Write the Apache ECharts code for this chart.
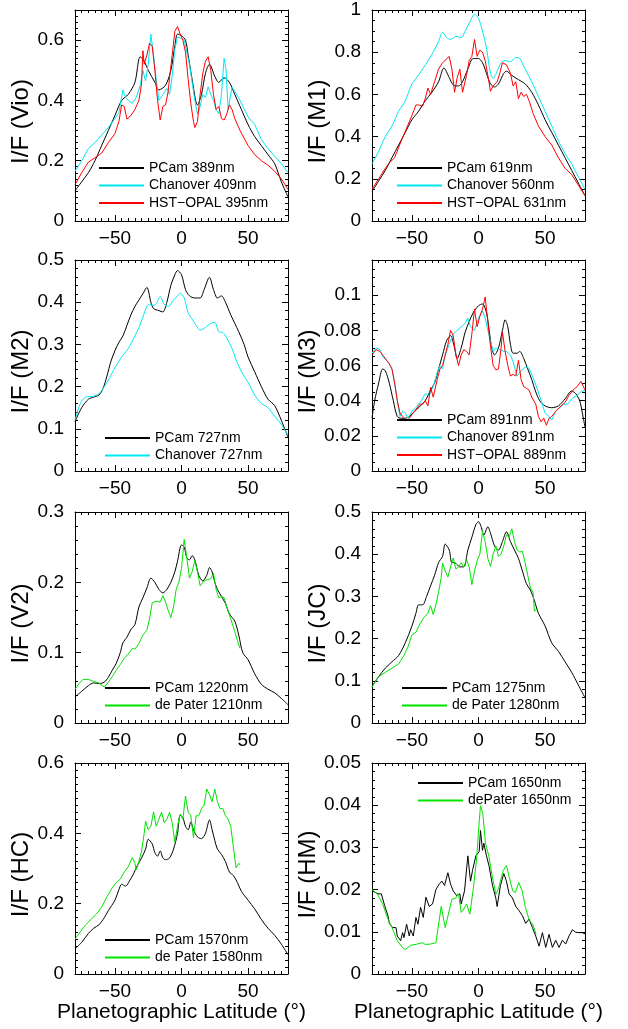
<!DOCTYPE html>
<html><head><meta charset="utf-8">
<script src="https://cdn.jsdelivr.net/npm/echarts@6/dist/echarts.min.js"></script>
<style>html,body{margin:0;padding:0;background:#fff}#c{width:628px;height:1029px}</style>
</head><body><div id="c"></div><script>
// ---------- tick labels ----------
const xTicks = [-50, 0, 50];
const yTicksVio = [0, 0.2, 0.4, 0.6];
const yTicksM1 = [0, 0.2, 0.4, 0.6, 0.8, 1];
const yTicksM2 = [0, 0.1, 0.2, 0.3, 0.4, 0.5];
const yTicksM3 = [0, 0.02, 0.04, 0.06, 0.08, 0.1];
const yTicksV2 = [0, 0.1, 0.2, 0.3];
const yTicksJC = [0, 0.1, 0.2, 0.3, 0.4, 0.5];
const yTicksHC = [0, 0.2, 0.4, 0.6];
const yTicksHM = [0, 0.01, 0.02, 0.03, 0.04, 0.05];

// ---------- series data: [latitude, I/F] ----------
const vioPCam = [[-80,0.10],[-75,0.13],[-70,0.16],[-65,0.20],[-60,0.25],[-55,0.30],[-50,0.35],[-45,0.40],[-40,0.42],[-35,0.46],[-31,0.545],[-28,0.53],[-25,0.50],[-20,0.46],[-17,0.435],[-12,0.45],[-8,0.50],[-5,0.58],[-3,0.62],[0,0.615],[3,0.60],[5,0.55],[8,0.47],[12,0.385],[15,0.42],[18,0.49],[21,0.52],[25,0.48],[28,0.46],[32,0.475],[36,0.46],[40,0.42],[45,0.37],[50,0.32],[55,0.28],[60,0.25],[65,0.22],[70,0.19],[75,0.13],[80,0.08]];
const vioChan = [[-80,0.165],[-75,0.20],[-70,0.24],[-65,0.26],[-60,0.285],[-55,0.31],[-50,0.34],[-47,0.36],[-44,0.435],[-42,0.41],[-40,0.40],[-37,0.39],[-34,0.41],[-31,0.45],[-29,0.50],[-27,0.465],[-25,0.52],[-23,0.62],[-21,0.55],[-19,0.47],[-17,0.40],[-14,0.42],[-11,0.44],[-9,0.42],[-7,0.48],[-5,0.57],[-3,0.61],[0,0.605],[2,0.60],[4,0.56],[6,0.52],[8,0.46],[10,0.40],[12,0.355],[14,0.38],[16,0.42],[18,0.41],[20,0.445],[22,0.42],[24,0.40],[26,0.37],[28,0.355],[30,0.42],[32,0.54],[33.5,0.50],[35,0.37],[38,0.445],[40,0.43],[44,0.40],[50,0.345],[55,0.32],[60,0.27],[65,0.24],[70,0.215],[75,0.19],[80,0.16]];
const vioHST = [[-80,0.12],[-75,0.16],[-70,0.195],[-65,0.21],[-60,0.225],[-55,0.26],[-50,0.29],[-47,0.33],[-45,0.385],[-43,0.38],[-41,0.338],[-38,0.35],[-35,0.37],[-32,0.40],[-30,0.455],[-29,0.565],[-28,0.52],[-26,0.55],[-24,0.59],[-22,0.58],[-20,0.50],[-18,0.40],[-16,0.335],[-14,0.38],[-12,0.385],[-10,0.43],[-9,0.474],[-7,0.55],[-5,0.63],[-3,0.645],[-1,0.62],[1,0.60],[3,0.56],[5,0.47],[7,0.39],[9,0.33],[10,0.31],[12,0.33],[14,0.42],[16,0.49],[18,0.53],[20,0.545],[22,0.50],[24,0.42],[26,0.37],[28,0.38],[30,0.34],[32,0.335],[34,0.355],[36,0.385],[38,0.37],[40,0.34],[44,0.30],[50,0.25],[55,0.22],[60,0.20],[65,0.185],[70,0.165],[75,0.14],[80,0.105]];

const m1PCam = [[-80,0.14],[-75,0.19],[-70,0.24],[-65,0.30],[-60,0.36],[-55,0.42],[-50,0.48],[-45,0.52],[-40,0.57],[-35,0.61],[-30,0.66],[-26,0.725],[-22,0.68],[-19,0.645],[-15,0.64],[-12,0.66],[-8,0.72],[-4,0.77],[0,0.77],[3,0.75],[6,0.70],[9,0.65],[12,0.635],[15,0.65],[19,0.70],[21,0.71],[25,0.69],[30,0.67],[35,0.65],[40,0.61],[45,0.55],[50,0.48],[55,0.42],[60,0.36],[65,0.30],[70,0.24],[75,0.18],[80,0.12]];
const m1Chan = [[-80,0.27],[-75,0.33],[-70,0.40],[-65,0.45],[-60,0.52],[-55,0.57],[-50,0.65],[-47,0.675],[-43,0.71],[-40,0.74],[-35,0.79],[-30,0.85],[-27,0.895],[-24,0.87],[-21,0.86],[-17,0.875],[-13,0.87],[-10,0.90],[-6,0.95],[-3,0.98],[0,0.96],[3,0.90],[6,0.82],[9,0.70],[11,0.675],[14,0.71],[17,0.75],[20,0.76],[24,0.755],[28,0.775],[31,0.77],[35,0.72],[40,0.66],[45,0.59],[50,0.52],[55,0.45],[60,0.38],[65,0.32],[70,0.27],[75,0.21],[80,0.15]];
const m1HST = [[-80,0.15],[-75,0.20],[-70,0.25],[-67,0.275],[-63,0.30],[-58,0.38],[-50,0.50],[-47,0.55],[-45,0.55],[-42,0.544],[-40,0.58],[-38,0.63],[-36,0.60],[-33,0.66],[-30,0.72],[-27,0.75],[-22,0.78],[-20,0.72],[-18,0.61],[-16,0.68],[-14,0.72],[-12,0.61],[-9,0.69],[-7,0.76],[-5,0.78],[-3,0.86],[-1,0.78],[1,0.81],[3,0.80],[5,0.76],[7,0.69],[9,0.615],[11,0.64],[14,0.66],[16,0.70],[18,0.75],[21,0.74],[24,0.70],[26,0.64],[28,0.66],[30,0.58],[32,0.61],[34,0.59],[36,0.60],[38,0.57],[41,0.51],[45,0.45],[50,0.40],[55,0.36],[60,0.30],[65,0.25],[70,0.22],[75,0.17],[80,0.12]];

const m2PCam = [[-80,0.117],[-75,0.15],[-70,0.17],[-66,0.175],[-62,0.18],[-59,0.195],[-56,0.225],[-53,0.26],[-50,0.285],[-47,0.305],[-44,0.32],[-41,0.345],[-38,0.37],[-35,0.39],[-32,0.405],[-29,0.42],[-26,0.435],[-23,0.40],[-21,0.385],[-17,0.38],[-14,0.377],[-11,0.40],[-8,0.44],[-5,0.465],[-3,0.475],[0,0.465],[3,0.43],[6,0.415],[10,0.41],[14,0.41],[17,0.43],[21,0.459],[24,0.43],[27,0.41],[30,0.415],[33,0.40],[37,0.37],[40,0.35],[43,0.33],[47,0.30],[50,0.27],[55,0.235],[60,0.20],[65,0.17],[70,0.155],[75,0.12],[80,0.08]];
const m2Chan = [[-80,0.12],[-76,0.16],[-72,0.175],[-66,0.177],[-62,0.183],[-59,0.195],[-55,0.215],[-50,0.245],[-45,0.27],[-40,0.29],[-35,0.32],[-32,0.34],[-29,0.365],[-26,0.39],[-24,0.395],[-21,0.392],[-19,0.397],[-16,0.413],[-13,0.395],[-10,0.39],[-6,0.405],[-3,0.415],[-1,0.421],[2,0.41],[5,0.375],[8,0.36],[11,0.345],[14,0.334],[18,0.34],[22,0.35],[25,0.352],[28,0.33],[31,0.328],[34,0.315],[38,0.29],[42,0.255],[46,0.23],[50,0.21],[55,0.18],[60,0.16],[65,0.15],[70,0.13],[75,0.11],[80,0.085]];

const m3PCam = [[-80,0.03],[-78,0.04],[-75,0.05],[-72,0.058],[-70,0.057],[-67,0.05],[-64,0.04],[-61,0.031],[-58,0.03],[-55,0.03],[-52,0.031],[-48,0.034],[-45,0.036],[-40,0.04],[-36,0.046],[-33,0.05],[-30,0.058],[-27,0.066],[-24,0.074],[-21,0.077],[-18,0.07],[-16,0.064],[-13,0.07],[-10,0.079],[-7,0.085],[-4,0.09],[0,0.094],[3,0.095],[6,0.09],[8,0.08],[10,0.07],[12,0.066],[15,0.07],[18,0.08],[20,0.086],[22,0.082],[24,0.072],[26,0.067],[29,0.067],[31,0.068],[34,0.064],[37,0.058],[40,0.052],[43,0.045],[46,0.04],[50,0.037],[55,0.036],[60,0.037],[65,0.041],[70,0.0455],[73,0.044],[76,0.04],[78,0.033],[80,0.025]];
const m3Chan = [[-80,0.067],[-77,0.07],[-74,0.069],[-72,0.065],[-68,0.062],[-65,0.058],[-63,0.05],[-61,0.04],[-59,0.031],[-57,0.034],[-55,0.033],[-53,0.030],[-50,0.034],[-47,0.036],[-43,0.040],[-40,0.044],[-37,0.043],[-34,0.048],[-31,0.056],[-29,0.060],[-27,0.058],[-25,0.066],[-22,0.072],[-19,0.078],[-16,0.08],[-13,0.082],[-10,0.084],[-8,0.087],[-6,0.082],[-3,0.08],[0,0.087],[3,0.091],[5,0.087],[7,0.08],[9,0.074],[11,0.068],[13,0.070],[16,0.069],[19,0.068],[21,0.068],[24,0.066],[26,0.062],[29,0.054],[32,0.057],[35,0.059],[38,0.0585],[41,0.053],[44,0.047],[47,0.040],[50,0.033],[53,0.031],[55,0.029],[58,0.034],[61,0.036],[64,0.038],[67,0.038],[70,0.041],[74,0.043],[77,0.045],[80,0.046]];
const m3HST = [[-80,0.066],[-77,0.069],[-74,0.068],[-71,0.065],[-67,0.061],[-65,0.058],[-63,0.050],[-61,0.040],[-59,0.033],[-57,0.031],[-55,0.0285],[-53,0.029],[-50,0.032],[-47,0.035],[-44,0.038],[-42,0.038],[-40,0.040],[-38,0.037],[-36,0.0475],[-34,0.042],[-31,0.052],[-29,0.058],[-27,0.060],[-25,0.066],[-23,0.072],[-21,0.080],[-19,0.077],[-17,0.066],[-15,0.060],[-13,0.066],[-11,0.069],[-9,0.068],[-7,0.066],[-5,0.078],[-3,0.092],[-1,0.082],[1,0.088],[3,0.092],[5,0.099],[7,0.085],[9,0.071],[11,0.060],[13,0.0575],[15,0.058],[17,0.07],[18,0.079],[20,0.068],[22,0.06],[24,0.054],[26,0.055],[28,0.054],[30,0.063],[32,0.052],[34,0.048],[36,0.047],[38,0.046],[40,0.042],[43,0.038],[45,0.031],[47,0.028],[49,0.030],[51,0.026],[53,0.030],[55,0.031],[58,0.034],[62,0.037],[65,0.039],[68,0.043],[71,0.046],[74,0.048],[77,0.051],[80,0.046]];

const v2PCam = [[-80,0.037],[-75,0.045],[-70,0.053],[-66,0.057],[-62,0.056],[-58,0.058],[-55,0.065],[-52,0.075],[-49,0.085],[-46,0.10],[-44,0.114],[-41,0.122],[-38,0.133],[-35,0.14],[-32,0.165],[-29,0.178],[-26,0.192],[-23,0.206],[-20,0.20],[-17,0.19],[-14,0.185],[-11,0.19],[-8,0.20],[-5,0.215],[-3,0.23],[0,0.253],[2,0.25],[4,0.235],[6,0.232],[8,0.238],[10,0.232],[13,0.21],[16,0.202],[19,0.21],[21,0.221],[23,0.215],[25,0.20],[27,0.19],[30,0.18],[33,0.17],[36,0.155],[40,0.145],[43,0.125],[46,0.10],[50,0.09],[55,0.07],[60,0.055],[65,0.048],[70,0.043],[75,0.035],[80,0.026]];
const v2dePater = [[-80,0.048],[-77,0.056],[-74,0.062],[-70,0.062],[-66,0.059],[-62,0.057],[-58,0.051],[-55,0.058],[-52,0.066],[-49,0.075],[-46,0.083],[-43,0.092],[-40,0.098],[-37,0.106],[-35,0.105],[-32,0.113],[-29,0.125],[-26,0.132],[-24,0.148],[-22,0.171],[-19,0.173],[-16,0.172],[-14,0.181],[-12,0.172],[-10,0.160],[-8,0.150],[-6,0.165],[-4,0.19],[-2,0.20],[0,0.22],[1,0.24],[2,0.261],[4,0.235],[6,0.206],[8,0.215],[10,0.231],[12,0.215],[14,0.195],[16,0.20],[18,0.203],[20,0.204],[22,0.205],[24,0.213],[26,0.19],[28,0.178],[30,0.18],[32,0.178],[34,0.165],[37,0.148],[40,0.13],[42,0.117],[44,0.106]];

const jcPCam = [[-80,0.087],[-75,0.11],[-70,0.13],[-65,0.145],[-60,0.16],[-55,0.19],[-50,0.23],[-47,0.26],[-45,0.28],[-42,0.28],[-39,0.30],[-36,0.325],[-33,0.35],[-30,0.38],[-27,0.395],[-25,0.424],[-22,0.41],[-20,0.38],[-18,0.38],[-16,0.375],[-14,0.37],[-11,0.37],[-8,0.41],[-5,0.44],[-2,0.47],[0,0.477],[2,0.465],[4,0.445],[7,0.465],[9,0.45],[12,0.42],[15,0.41],[18,0.43],[21,0.453],[24,0.43],[27,0.41],[30,0.39],[33,0.36],[36,0.33],[39,0.315],[42,0.29],[45,0.26],[50,0.23],[55,0.19],[60,0.17],[65,0.145],[70,0.12],[75,0.09],[80,0.06]];
const jcdePater = [[-80,0.085],[-75,0.11],[-70,0.12],[-65,0.13],[-60,0.14],[-56,0.16],[-53,0.18],[-50,0.209],[-47,0.215],[-44,0.235],[-41,0.25],[-38,0.26],[-36,0.278],[-34,0.257],[-32,0.28],[-30,0.31],[-28,0.345],[-27,0.379],[-25,0.36],[-23,0.346],[-21,0.37],[-19,0.391],[-17,0.365],[-15,0.37],[-13,0.38],[-11,0.37],[-9,0.387],[-7,0.37],[-5,0.328],[-3,0.36],[-1,0.385],[1,0.40],[3,0.454],[5,0.43],[7,0.39],[9,0.371],[11,0.40],[13,0.42],[15,0.395],[17,0.40],[19,0.42],[21,0.446],[23,0.44],[25,0.46],[27,0.43],[29,0.41],[31,0.405],[33,0.407],[35,0.38],[37,0.35],[39,0.32],[41,0.31],[42,0.265],[44,0.27]];

const hcPCam = [[-80,0.071],[-75,0.09],[-70,0.115],[-66,0.13],[-62,0.14],[-58,0.16],[-55,0.18],[-50,0.21],[-47,0.24],[-45,0.255],[-42,0.25],[-39,0.265],[-36,0.285],[-33,0.31],[-30,0.33],[-27,0.355],[-25,0.383],[-22,0.37],[-20,0.345],[-18,0.335],[-16,0.35],[-14,0.33],[-12,0.325],[-9,0.33],[-6,0.355],[-3,0.40],[-1,0.451],[1,0.445],[3,0.42],[5,0.41],[7,0.432],[9,0.41],[12,0.39],[15,0.385],[18,0.40],[21,0.438],[23,0.41],[25,0.38],[27,0.355],[30,0.34],[33,0.32],[36,0.29],[39,0.28],[42,0.26],[45,0.235],[50,0.21],[55,0.185],[60,0.155],[65,0.13],[70,0.11],[75,0.085],[80,0.055]];
const hcdePater = [[-80,0.099],[-76,0.12],[-72,0.14],[-68,0.155],[-64,0.17],[-60,0.19],[-56,0.22],[-52,0.245],[-49,0.26],[-46,0.27],[-43,0.29],[-40,0.305],[-37,0.331],[-35,0.315],[-34,0.296],[-32,0.32],[-30,0.35],[-28,0.40],[-27,0.435],[-25,0.41],[-23,0.42],[-21,0.461],[-19,0.42],[-17,0.44],[-15,0.46],[-13,0.43],[-11,0.44],[-9,0.46],[-7,0.43],[-5,0.375],[-3,0.42],[-1,0.455],[1,0.44],[3,0.506],[5,0.46],[7,0.45],[9,0.388],[11,0.45],[13,0.45],[15,0.47],[17,0.48],[19,0.526],[21,0.51],[23,0.49],[25,0.526],[27,0.49],[29,0.47],[31,0.471],[33,0.45],[35,0.44],[37,0.42],[39,0.36],[41,0.302],[43,0.315],[44,0.31]];

const hmPCam = [[-80,0.0197],[-75.5,0.019],[-73,0.019],[-70.5,0.0162],[-68,0.0138],[-67,0.012],[-64.5,0.011],[-62,0.011],[-61,0.009],[-58.5,0.0079],[-57,0.0098],[-56,0.0086],[-54,0.0118],[-52,0.009],[-51,0.0105],[-49,0.009],[-47,0.0134],[-45.5,0.0118],[-43.5,0.0158],[-41.5,0.0134],[-39.5,0.0182],[-37,0.016],[-34.5,0.0166],[-32,0.020],[-29.5,0.0213],[-27.5,0.022],[-25.5,0.021],[-23,0.024],[-21,0.0213],[-19,0.0197],[-16.5,0.0186],[-14,0.019],[-13,0.0166],[-10.5,0.0197],[-8,0.028],[-6,0.022],[-4.5,0.0245],[-2,0.028],[0.5,0.029],[1.5,0.034],[3,0.0293],[4,0.031],[6,0.028],[8,0.0255],[10.5,0.021],[13,0.018],[14,0.016],[16.5,0.021],[19,0.0238],[21,0.022],[23,0.019],[25.5,0.018],[28,0.016],[30.5,0.015],[33,0.0138],[35.5,0.012],[38,0.013],[40.5,0.011],[43,0.009],[45.5,0.0066],[48,0.0098],[50.5,0.0063],[53,0.0094],[55.5,0.0063],[58,0.008],[60.5,0.0063],[63,0.008],[65.5,0.0071],[68,0.009],[70.5,0.0105],[73,0.0099],[75.5,0.0098],[78,0.0098],[80,0.0095]];
const hmdePater = [[-80,0.020],[-76,0.019],[-72,0.0166],[-68.5,0.0134],[-65,0.011],[-61,0.0079],[-57,0.0062],[-55,0.0058],[-51,0.0068],[-46,0.0071],[-42,0.0074],[-40,0.007],[-36,0.0071],[-32,0.0074],[-30.5,0.0074],[-28,0.016],[-25,0.011],[-22,0.015],[-20,0.0177],[-17,0.018],[-15,0.019],[-13,0.0146],[-11,0.0154],[-9,0.0166],[-6.5,0.0142],[-4,0.020],[-1.5,0.027],[0.25,0.035],[1.5,0.0399],[3.25,0.038],[5.25,0.031],[7.75,0.028],[10,0.0237],[13,0.0189],[15,0.0202],[18.5,0.0245],[21,0.0257],[23,0.023],[25.75,0.0197],[27.75,0.0193],[30.25,0.0217],[32.75,0.0197],[35.25,0.0158],[38.25,0.0126],[40.75,0.0118],[43.25,0.0094]];

// ---------- styling / layout ----------
const FONT = 'Liberation Sans, Arial, Helvetica, sans-serif';
const BLACK = '#000000', CYAN = '#00e8f0', RED = '#ff0000', GREEN = '#00e400';
const LW = 1;
const colL = 75, colR = 372, gw = 213, gh = 211;
const rows = [10, 260, 512, 763];

const panels = [
  {left: colL, top: rows[0], yMax: 0.7, yMinor: 0.02, yTicks: yTicksVio, yName: 'I/F (Vio)', legend: [98, 161],
   series: [['PCam 389nm', vioPCam, BLACK, true], ['Chanover 409nm', vioChan, CYAN, false], ['HST\u2212OPAL 395nm', vioHST, RED, false]]},
  {left: colR, top: rows[0], yMax: 1.0, yMinor: 0.05, yTicks: yTicksM1, yName: 'I/F (M1)', legend: [396, 161],
   series: [['PCam 619nm', m1PCam, BLACK, true], ['Chanover 560nm', m1Chan, CYAN, true], ['HST\u2212OPAL 631nm', m1HST, RED, false]]},
  {left: colL, top: rows[1], yMax: 0.5, yMinor: 0.02, yTicks: yTicksM2, yName: 'I/F (M2)', legend: [104, 431],
   series: [['PCam 727nm', m2PCam, BLACK, true], ['Chanover 727nm', m2Chan, CYAN, true]]},
  {left: colR, top: rows[1], yMax: 0.12, yMinor: 0.005, yTicks: yTicksM3, yName: 'I/F (M3)', legend: [396, 413],
   series: [['PCam 891nm', m3PCam, BLACK, true], ['Chanover 891nm', m3Chan, CYAN, false], ['HST\u2212OPAL 889nm', m3HST, RED, false]]},
  {left: colL, top: rows[2], yMax: 0.3, yMinor: 0.02, yTicks: yTicksV2, yName: 'I/F (V2)', legend: [104, 681],
   series: [['PCam 1220nm', v2PCam, BLACK, true], ['de Pater 1210nm', v2dePater, GREEN, false]]},
  {left: colR, top: rows[2], yMax: 0.5, yMinor: 0.02, yTicks: yTicksJC, yName: 'I/F (JC)', legend: [401, 681],
   series: [['PCam 1275nm', jcPCam, BLACK, true], ['de Pater 1280nm', jcdePater, GREEN, false]]},
  {left: colL, top: rows[3], yMax: 0.6, yMinor: 0.02, yTicks: yTicksHC, yName: 'I/F (HC)', legend: [104, 933], xName: true,
   series: [['PCam 1570nm', hcPCam, BLACK, true], ['de Pater 1580nm', hcdePater, GREEN, false]]},
  {left: colR, top: rows[3], yMax: 0.05, yMinor: 0.002, yTicks: yTicksHM, yName: 'I/F (HM)', legend: [417, 776], xName: true,
   series: [['PCam 1650nm', hmPCam, BLACK, false], ['dePater 1650nm', hmdePater, GREEN, false]]}
];

const fmt = v => String(+(+v).toFixed(6)).replace('-', '\u2212');
const lineStyle = {color: '#000', width: 1};

const grid = [], xAxis = [], yAxis = [], series = [], legend = [];
panels.forEach((p, i) => {
  grid.push({left: p.left, top: p.top, width: gw, height: gh, containLabel: false});
  const xBase = {gridIndex: i, type: 'value', min: -80, max: 80, splitLine: {show: false}};
  xAxis.push(Object.assign({}, xBase, {position: 'bottom', interval: 5,
    axisLine: {show: true, onZero: false, lineStyle}, axisTick: {show: true, inside: true, length: 3, lineStyle},
    axisLabel: {show: false}}));
  const xl = Object.assign({}, xBase, {position: 'bottom',
    axisLine: {show: false, onZero: false}, axisTick: {show: true, inside: true, length: 6, lineStyle, customValues: xTicks},
    axisLabel: {show: true, customValues: xTicks, formatter: fmt, fontSize: 19, fontFamily: FONT, color: '#000', margin: 8}});
  if (p.xName) Object.assign(xl, {name: 'Planetographic Latitude (\u00b0)', nameLocation: 'middle', nameGap: 28,
    nameTextStyle: {fontSize: 21, fontFamily: FONT, color: '#000'}});
  xAxis.push(xl);
  xAxis.push(Object.assign({}, xBase, {position: 'top', interval: 5,
    axisLine: {show: true, onZero: false, lineStyle}, axisTick: {show: true, inside: true, length: 3, lineStyle},
    axisLabel: {show: false}}));
  xAxis.push(Object.assign({}, xBase, {position: 'top',
    axisLine: {show: false, onZero: false}, axisTick: {show: true, inside: true, length: 6, lineStyle, customValues: xTicks},
    axisLabel: {show: false}}));

  const yBase = {gridIndex: i, type: 'value', min: 0, max: p.yMax, splitLine: {show: false}};
  yAxis.push(Object.assign({}, yBase, {position: 'left', interval: p.yMinor,
    axisLine: {show: true, onZero: false, lineStyle}, axisTick: {show: true, inside: true, length: 3, lineStyle},
    axisLabel: {show: false}}));
  yAxis.push(Object.assign({}, yBase, {position: 'left',
    axisLine: {show: false, onZero: false}, axisTick: {show: true, inside: true, length: 6, lineStyle, customValues: p.yTicks},
    axisLabel: {show: true, customValues: p.yTicks, formatter: fmt, fontSize: 19, fontFamily: FONT, color: '#000', margin: 11},
    name: p.yName, nameLocation: 'middle', nameGap: 40,
    nameTextStyle: {fontSize: 24, fontFamily: FONT, color: '#000', padding: [0, 12, 0, 0]}}));
  yAxis.push(Object.assign({}, yBase, {position: 'right', interval: p.yMinor,
    axisLine: {show: true, onZero: false, lineStyle}, axisTick: {show: true, inside: true, length: 3, lineStyle},
    axisLabel: {show: false}}));
  yAxis.push(Object.assign({}, yBase, {position: 'right',
    axisLine: {show: false, onZero: false}, axisTick: {show: true, inside: true, length: 6, lineStyle, customValues: p.yTicks},
    axisLabel: {show: false}}));

  const names = [];
  p.series.forEach(([name, data, color, smooth]) => {
    names.push(name);
    series.push({type: 'line', name, data, xAxisIndex: i * 4, yAxisIndex: i * 4,
      symbol: 'none', smooth: smooth ? 0.3 : false, clip: true,
      lineStyle: {color, width: LW}, itemStyle: {color}, animation: false, z: 3});
  });
  legend.push({data: names, orient: 'vertical', left: p.legend[0], top: p.legend[1], padding: 0,
    itemWidth: 45, itemHeight: 2, itemGap: 3.5, selectedMode: false,
    itemStyle: {opacity: 0, borderWidth: 0},
    textStyle: {fontSize: 14, fontFamily: FONT, color: '#000', lineHeight: 14}});
});

const chart = echarts.init(document.getElementById('c'), null, {renderer: 'canvas'});
chart.setOption({backgroundColor: '#fff', animation: false, grid, xAxis, yAxis, series, legend});
</script></body></html>
